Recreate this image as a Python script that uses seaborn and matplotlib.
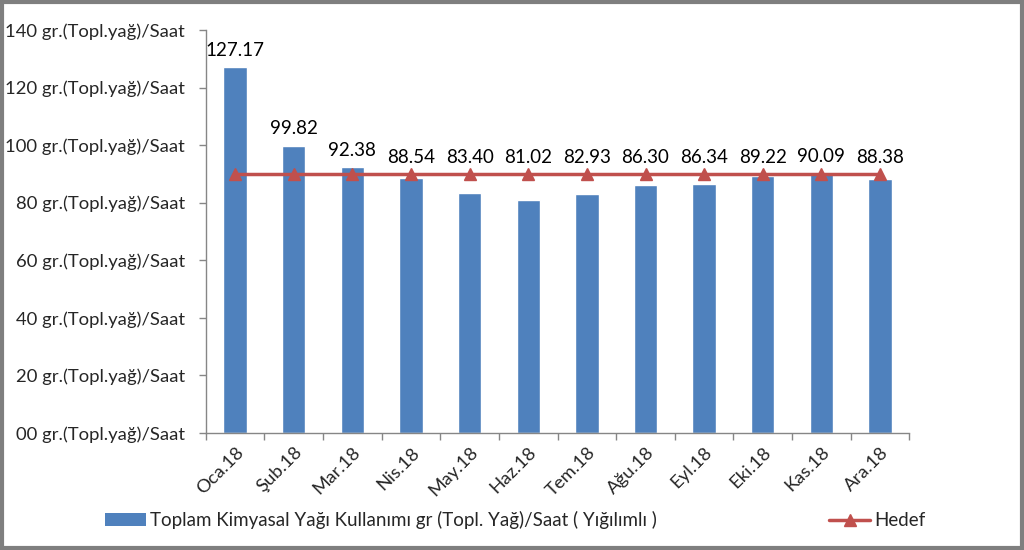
import matplotlib
matplotlib.use("Agg")
import matplotlib.pyplot as plt
import seaborn as sns
import pandas as pd
from matplotlib.lines import Line2D
from matplotlib.patches import Patch, Rectangle

months = ["Oca.18", "Şub.18", "Mar.18", "Nis.18", "May.18", "Haz.18",
          "Tem.18", "Ağu.18", "Eyl.18", "Eki.18", "Kas.18", "Ara.18"]
usage = [127.17, 99.82, 92.38, 88.54, 83.40, 81.02, 82.93, 86.30, 86.34, 89.22, 90.09, 88.38]
target = [90] * 12
yticks = [0, 20, 40, 60, 80, 100, 120, 140]
ytick_labels = ["00 gr.(Topl.yağ)/Saat", "20 gr.(Topl.yağ)/Saat", "40 gr.(Topl.yağ)/Saat",
                "60 gr.(Topl.yağ)/Saat", "80 gr.(Topl.yağ)/Saat", "100 gr.(Topl.yağ)/Saat",
                "120 gr.(Topl.yağ)/Saat", "140 gr.(Topl.yağ)/Saat"]
bar_label = "Toplam Kimyasal Yağı Kullanımı gr (Topl. Yağ)/Saat ( Yığılımlı )"
line_label = "Hedef"

BLUE = "#4F81BD"
RED = "#C0504D"

sns.set_theme(style="white")
plt.rcParams['font.family'] = ['Lato', 'DejaVu Sans']

fig = plt.figure(figsize=(10.24, 5.5), dpi=100)
ax = fig.add_axes([0.201, 0.2127, 0.687, 0.7328])

df = pd.DataFrame({"month": months, "usage": usage})
sns.barplot(data=df, x="month", y="usage", color=BLUE, saturation=1, width=0.4, ax=ax)
ax.plot(range(len(months)), target, color=RED, lw=2.5, marker="^", markersize=8, zorder=5)

for i, v in enumerate(usage):
    ax.annotate(f"{v:.2f}", (i, max(v, target[i])), xytext=(0, 6), textcoords="offset points",
                ha="center", va="bottom", fontsize=13.5, color="black")

ax.set_xlim(-0.5, len(months) - 0.5)
ax.set_ylim(0, 140)
ax.set_yticks(yticks)
ax.set_yticklabels(ytick_labels, fontsize=13.3)
ax.set_xticks(range(len(months)))
ax.set_xticklabels(months, rotation=45, ha="right", rotation_mode="anchor", fontsize=13.3)
ax.set_xticks([i - 0.5 for i in range(len(months) + 1)], minor=True)
ax.tick_params(axis="x", which="major", length=0, pad=8)
ax.tick_params(axis="x", which="minor", length=5, color="#868686", width=1, direction="out", bottom=True)
ax.tick_params(axis="y", length=5, color="#868686", width=1, direction="out", left=True, pad=10)
ax.set_xlabel("")
ax.set_ylabel("")
for s in ["top", "right"]:
    ax.spines[s].set_visible(False)
for s in ["left", "bottom"]:
    ax.spines[s].set_color("#868686")
    ax.spines[s].set_linewidth(1)

handles = [Patch(facecolor=BLUE, edgecolor="none"),
           Line2D([0], [0], color=RED, lw=2.5, marker="^", markersize=8)]
fig.legend(handles, [bar_label, line_label], loc="center", bbox_to_anchor=(0.503, 0.054),
           ncol=2, frameon=False, fontsize=13.5, columnspacing=9.2, handlelength=2.2,
           handletextpad=0.2)

fig.patches.append(Rectangle((0.0015, 0.003), 0.997, 0.994, transform=fig.transFigure,
                             fill=False, edgecolor="#7F7F7F", lw=3))

fig.savefig("out.png", dpi=100)
